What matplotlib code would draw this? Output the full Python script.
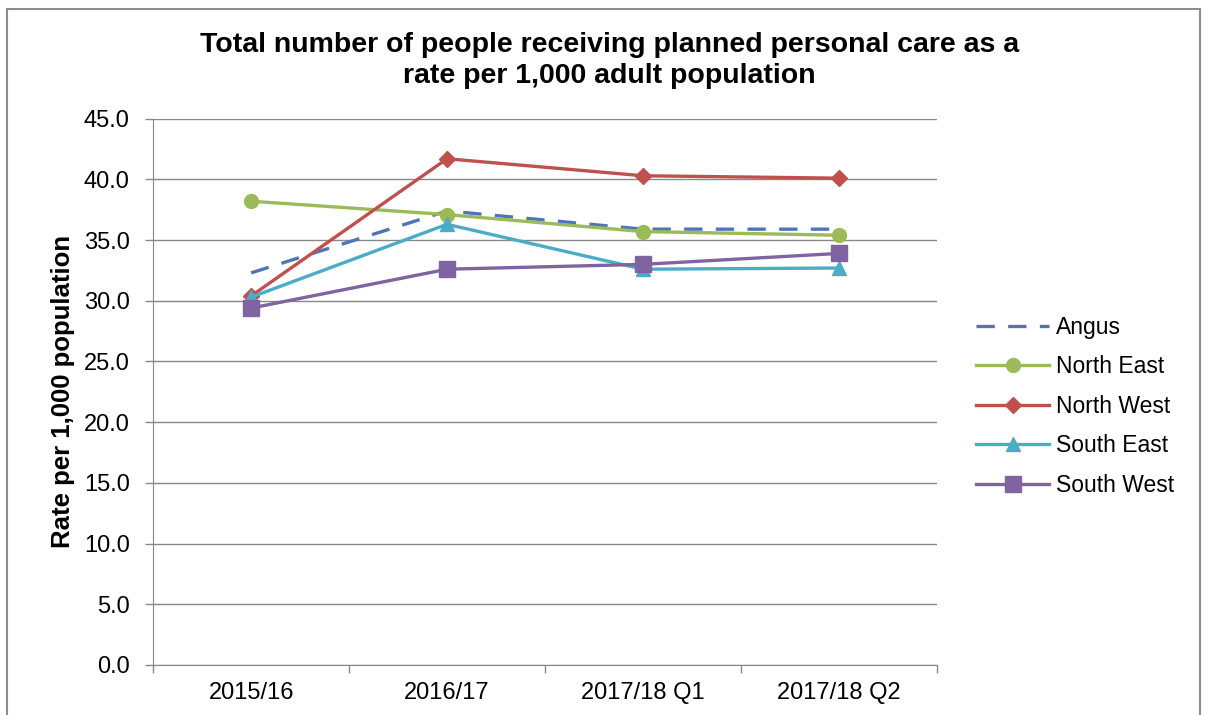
import matplotlib.pyplot as plt
from matplotlib.patches import Rectangle

plt.rcParams['font.family'] = ['Liberation Sans', 'DejaVu Sans']

periods = ["2015/16", "2016/17", "2017/18 Q1", "2017/18 Q2"]
angus = [32.3, 37.4, 35.9, 35.9]
north_east = [38.2, 37.1, 35.7, 35.4]
north_west = [30.4, 41.7, 40.3, 40.1]
south_east = [30.3, 36.3, 32.6, 32.7]
south_west = [29.4, 32.6, 33.0, 33.9]

fig = plt.figure(figsize=(12.07, 7.15), dpi=100)
ax = fig.add_axes([0.127, 0.070, 0.649, 0.764])

x = range(len(periods))
lw = 2.4
ax.plot(x, angus, color='#4F74B8', lw=lw, dashes=(5.5, 4), label='Angus')
ax.plot(x, north_east, color='#9BBB59', lw=lw, marker='o', ms=10, label='North East')
ax.plot(x, north_west, color='#C0504D', lw=lw, marker='D', ms=8, label='North West')
ax.plot(x, south_east, color='#4BACC6', lw=lw, marker='^', ms=10, label='South East')
ax.plot(x, south_west, color='#8064A2', lw=lw, marker='s', ms=11, label='South West')

ax.set_xlim(-0.5, 3.5)
ax.set_ylim(0, 45)
ax.set_yticks([i * 5 for i in range(10)])
ax.set_yticklabels(['%.1f' % (i * 5) for i in range(10)])
ax.set_xticks(list(x))
ax.set_xticklabels(periods)
ax.set_xticks([-0.5, 0.5, 1.5, 2.5, 3.5], minor=True)
ax.tick_params(axis='x', which='major', length=0, pad=12, labelsize=17)
ax.tick_params(axis='x', which='minor', length=6, color='#888888', width=1)
ax.tick_params(axis='y', length=6, color='#888888', width=1, labelsize=17, pad=11)

ax.grid(axis='y', color='#888888', lw=1)
ax.set_axisbelow(True)
for side in ['top', 'right']:
    ax.spines[side].set_visible(False)
for side in ['left', 'bottom']:
    ax.spines[side].set_color('#888888')

ax.set_ylabel('Rate per 1,000 population', fontsize=18.5, fontweight='bold', labelpad=6)
fig.text(0.505, 0.915, 'Total number of people receiving planned personal care as a\nrate per 1,000 adult population',
         ha='center', va='center', fontsize=20.5, fontweight='bold', linespacing=1.25)

ax.legend(loc='center left', bbox_to_anchor=(1.024, 0.474), frameon=False, fontsize=16.5,
          handlelength=3.2, handletextpad=0.3, labelspacing=0.72)

# outer chart border
fig.patches.append(Rectangle((0.006, -0.02), 0.988, 1.008, transform=fig.transFigure,
                             fill=False, edgecolor='#8c8c8c', lw=1.5))

fig.savefig('out.png', dpi=100)
